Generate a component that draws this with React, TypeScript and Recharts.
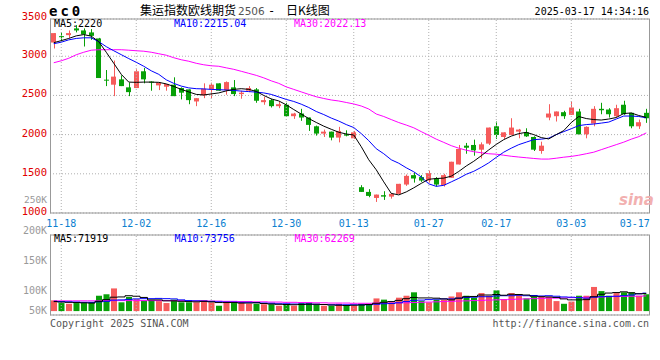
import React from "react";
import {
  Bar,
  CartesianGrid,
  Cell,
  ComposedChart,
  Line,
  ReferenceLine,
  XAxis,
  YAxis,
} from "recharts";

const dates = [
  "11-15", "11-18", "11-19", "11-20", "11-21", "11-22", "11-25", "11-26", "11-27", "11-28",
  "11-29", "12-02", "12-03", "12-04", "12-05", "12-06", "12-09", "12-10", "12-11", "12-12",
  "12-13", "12-16", "12-17", "12-18", "12-19", "12-20", "12-23", "12-24", "12-25", "12-26",
  "12-27", "12-30", "12-31", "01-02", "01-03", "01-06", "01-07", "01-08", "01-09", "01-10",
  "01-13", "01-14", "01-15", "01-16", "01-17", "01-20", "01-21", "01-22", "01-23", "01-24",
  "01-27", "02-05", "02-06", "02-07", "02-10", "02-11", "02-12", "02-13", "02-14", "02-17",
  "02-18", "02-19", "02-20", "02-21", "02-24", "02-25", "02-26", "02-27", "02-28", "03-03",
  "03-04", "03-05", "03-06", "03-07", "03-10", "03-11", "03-12", "03-13", "03-14", "03-17",
];

const opens = [
  3175, 3256, 3269, 3355, 3329, 3304, 3227, 2701, 2637, 2705,
  2603, 2594, 2808, 2676, 2628, 2611, 2637, 2594, 2577, 2423,
  2500, 2577, 2654, 2568, 2603, 2517, 2560, 2577, 2414, 2440,
  2363, 2381, 2235, 2269, 2218, 2106, 2013, 2038, 1962, 2004,
  1953, 1329, 1269, 1192, 1227, 1209, 1244, 1363, 1483, 1458,
  1414, 1440, 1355, 1449, 1619, 1859, 1868, 1808, 1885, 2106,
  1970, 1996, 2038, 2029, 1970, 1791, 2218, 2235, 2286, 2252,
  2295, 2004, 2141, 2329, 2320, 2235, 2381, 2278, 2106, 2278,
];
const highs = [
  3295, 3304, 3329, 3397, 3355, 3346, 3234, 2824, 2945, 2756,
  2663, 2833, 2850, 2679, 2663, 2645, 2731, 2603, 2577, 2465,
  2654, 2663, 2654, 2679, 2696, 2560, 2619, 2594, 2483, 2458,
  2423, 2406, 2278, 2329, 2218, 2115, 2064, 2038, 2099, 2055,
  2047, 1355, 1304, 1235, 1278, 1253, 1372, 1491, 1517, 1483,
  1542, 1458, 1500, 1654, 1868, 1894, 1936, 1901, 2090, 2167,
  2029, 2209, 2073, 2081, 1978, 1910, 2388, 2295, 2304, 2423,
  2329, 2106, 2363, 2406, 2337, 2381, 2432, 2278, 2192, 2329,
];
const lows = [
  3099, 3192, 3234, 3304, 3124, 3209, 2722, 2619, 2491, 2619,
  2491, 2594, 2654, 2560, 2568, 2560, 2491, 2449, 2388, 2363,
  2465, 2465, 2560, 2509, 2491, 2458, 2542, 2406, 2381, 2346,
  2337, 2227, 2201, 2176, 2047, 1987, 1970, 1927, 1901, 1978,
  1945, 1269, 1201, 1141, 1167, 1183, 1244, 1346, 1388, 1397,
  1388, 1337, 1337, 1449, 1619, 1756, 1731, 1696, 1868, 1945,
  1945, 1996, 1953, 1970, 1791, 1756, 2183, 2167, 2201, 2252,
  2004, 1953, 2106, 2260, 2218, 2218, 2252, 2081, 2073, 2150,
];
const closes = [
  3295, 3243, 3295, 3329, 3278, 3260, 2722, 2692, 2740, 2619,
  2542, 2808, 2705, 2667, 2663, 2645, 2491, 2535, 2440, 2465,
  2586, 2637, 2560, 2670, 2517, 2535, 2594, 2432, 2440, 2363,
  2388, 2235, 2269, 2218, 2124, 2013, 2038, 1962, 2047, 1987,
  2029, 1269, 1218, 1235, 1209, 1244, 1372, 1474, 1440, 1414,
  1509, 1363, 1483, 1654, 1817, 1833, 1799, 1876, 2090, 1996,
  2029, 2090, 2064, 1978, 1808, 1859, 2269, 2295, 2235, 2346,
  2004, 2099, 2329, 2311, 2260, 2337, 2260, 2106, 2158, 2209,
];

const ma5 = [
  3173, 3199, 3227, 3260, 3276, 3256, 3186, 3051, 2910, 2769,
  2670, 2667, 2670, 2670, 2667, 2647, 2615, 2577, 2545, 2513,
  2506, 2519, 2532, 2558, 2577, 2586, 2577, 2551, 2500, 2455,
  2430, 2380, 2320, 2262, 2205, 2155, 2108, 2068, 2030, 2008,
  1995, 1846, 1679, 1551, 1397, 1250, 1231, 1269, 1321, 1378,
  1430, 1440, 1445, 1470, 1530, 1600, 1660, 1730, 1805, 1875,
  1936, 1981, 2013, 2029, 2000, 1962, 1945, 2000, 2051, 2154,
  2231, 2205, 2192, 2186, 2199, 2218, 2269, 2276, 2244, 2220,
];
const ma10 = [
  3160, 3179, 3209, 3227, 3235, 3235, 3186, 3122, 3070, 3020,
  2970, 2923, 2872, 2814, 2769, 2699, 2654, 2619, 2596, 2586,
  2583, 2577, 2573, 2569, 2564, 2555, 2549, 2542, 2532, 2513,
  2481, 2449, 2423, 2388, 2346, 2295, 2256, 2211, 2173, 2128,
  2090, 2013, 1923, 1820, 1756, 1679, 1635, 1577, 1526, 1460,
  1372, 1340, 1353, 1397, 1442, 1494, 1532, 1583, 1640, 1710,
  1776, 1827, 1872, 1904, 1936, 1942, 1955, 2000, 2038, 2075,
  2115, 2128, 2135, 2147, 2160, 2199, 2237, 2237, 2231, 2215,
];
const ma30 = [
  2917, 2942, 2974, 3019, 3051, 3077, 3083, 3083, 3083, 3083,
  3077, 3070, 3064, 3051, 3032, 3013, 2981, 2955, 2936, 2910,
  2891, 2878, 2872, 2852, 2833, 2808, 2782, 2756, 2724, 2686,
  2654, 2609, 2577, 2545, 2513, 2483, 2461, 2442, 2429, 2410,
  2391, 2365, 2327, 2263, 2231, 2192, 2154, 2122, 2087, 2038,
  1991, 1942, 1901, 1859, 1827, 1801, 1782, 1769, 1756, 1750,
  1737, 1724, 1714, 1705, 1696, 1688, 1688, 1699, 1712, 1722,
  1737, 1756, 1776, 1808, 1840, 1872, 1904, 1942, 1974, 2022,
];

const volumes = [
  44000, 33000, 30000, 33000, 33000, 36000, 63000, 69000, 93000, 36000,
  58000, 49000, 44000, 44000, 41000, 33000, 47000, 36000, 36000, 36000,
  44000, 36000, 22000, 39000, 33000, 36000, 30000, 30000, 28000, 28000,
  22000, 28000, 22000, 33000, 33000, 25000, 22000, 22000, 30000, 22000,
  22000, 30000, 30000, 52000, 47000, 36000, 55000, 63000, 77000, 41000,
  36000, 47000, 47000, 60000, 77000, 63000, 55000, 74000, 63000, 85000,
  49000, 74000, 69000, 52000, 60000, 60000, 58000, 41000, 30000, 39000,
  63000, 63000, 99000, 82000, 63000, 74000, 77000, 77000, 63000, 69000,
];
const volMa5 = [
  39000, 37000, 36000, 35000, 34000, 33000, 40000, 47000, 57000, 58000,
  63000, 61000, 56000, 46000, 46000, 42000, 42000, 40000, 39000, 38000,
  40000, 38000, 35000, 35000, 35000, 33000, 33000, 34000, 31000, 29000,
  28000, 27000, 26000, 27000, 28000, 28000, 27000, 25000, 24000, 23000,
  24000, 25000, 27000, 32000, 36000, 39000, 44000, 51000, 56000, 54000,
  54000, 53000, 50000, 46000, 53000, 59000, 60000, 66000, 66000, 68000,
  65000, 69000, 68000, 66000, 61000, 59000, 58000, 56000, 50000, 46000,
  46000, 47000, 59000, 69000, 74000, 76000, 79000, 75000, 71000, 71919,
];
const volMa10 = [
  40000, 39000, 38000, 37000, 36000, 36000, 38000, 40000, 45000, 46000,
  48000, 50000, 51000, 51000, 52000, 51000, 50000, 46000, 43000, 42000,
  41000, 40000, 38000, 37000, 37000, 36000, 36000, 35000, 33000, 32000,
  30000, 30000, 29000, 29000, 29000, 28000, 27000, 26000, 26000, 26000,
  26000, 26000, 26000, 28000, 30000, 31000, 34000, 39000, 44000, 45000,
  47000, 49000, 50000, 50000, 53000, 56000, 57000, 59000, 59000, 62000,
  63000, 63000, 65000, 63000, 64000, 62000, 63000, 61000, 58000, 57000,
  55000, 53000, 57000, 59000, 60000, 61000, 63000, 66000, 71000, 73756,
];
const volMa30 = [
  42000, 42000, 42000, 42000, 42000, 42000, 42000, 43000, 43000, 43000,
  43000, 43000, 43000, 43000, 43000, 43000, 43000, 43000, 42000, 42000,
  42000, 41000, 41000, 40000, 40000, 39000, 39000, 38000, 38000, 37000,
  37000, 36000, 36000, 35000, 35000, 34000, 34000, 33000, 33000, 33000,
  32000, 32000, 32000, 33000, 33000, 33000, 34000, 34000, 35000, 36000,
  37000, 38000, 39000, 40000, 41000, 42000, 43000, 44000, 45000, 46000,
  47000, 48000, 49000, 50000, 51000, 52000, 53000, 53000, 54000, 55000,
  56000, 57000, 58000, 58000, 59000, 60000, 60000, 61000, 61000, 62269,
];

const tickDates = ["11-18", "12-02", "12-16", "12-30", "01-13", "01-27", "02-17", "03-03", "03-17"];
const gridDates = tickDates.slice(0, -1);
const priceTicks = [1000, 1500, 2000, 2500, 3000];
const PRICE_MIN = 1000;
const PRICE_MAX = 3475;

const UP = "#f65b5b";
const DOWN = "#07a007";
const MONO = "'DejaVu Sans Mono', 'Liberation Mono', monospace";
const CJK = "'Noto Sans CJK SC', sans-serif";
const GRID = "#b0b0b0";
const FRAME = "#999";

const rows = dates.map((date, i) => ({
  date,
  open: opens[i],
  high: highs[i],
  low: lows[i],
  close: closes[i],
  ma5: ma5[i],
  ma10: ma10[i],
  ma30: ma30[i],
  vol: volumes[i],
  vma5: volMa5[i],
  vma10: volMa10[i],
  vma30: volMa30[i],
}));

function Candle(props: any) {
  const { x, y, width, height, payload } = props;
  const { open, close, high, low } = payload;
  const color = close >= open ? UP : DOWN;
  const k = high > low ? height / (high - low) : 0;
  const top = y + (high - Math.max(open, close)) * k;
  const bottom = y + (high - Math.min(open, close)) * k;
  const cx = Math.round(x + width / 2) + 0.5;
  return (
    <g>
      <line x1={cx} x2={cx} y1={y} y2={y + height} stroke={color} strokeWidth={1} />
      <rect x={Math.round(x)} y={top} width={width} height={Math.max(1, bottom - top)} fill={color} />
    </g>
  );
}

function DateTick({ x, y, payload }: any) {
  const last = payload.value === dates[dates.length - 1];
  return (
    <text
      x={last ? x + 3.5 : x}
      y={y + 12}
      textAnchor={last ? "end" : "middle"}
      fill="#0a80d0"
      fontSize={10}
      fontFamily={MONO}
    >
      {payload.value}
    </text>
  );
}

function PriceTick({ x, y, payload }: any) {
  return (
    <text x={x} y={y + 2} textAnchor="end" fill="#e00000" fontSize={10.5} fontFamily={MONO}>
      {payload.value}
    </text>
  );
}

function PriceChart() {
  return (
    <ComposedChart
      width={660}
      height={232}
      data={rows}
      margin={{ top: 19, right: 0, bottom: 0, left: 0 }}
    >
      <CartesianGrid vertical={false} stroke={GRID} strokeDasharray="1 2" />
      {gridDates.map((d) => (
        <ReferenceLine key={d} x={d} stroke={GRID} strokeDasharray="1 2" />
      ))}
      <XAxis
        dataKey="date"
        ticks={tickDates}
        interval={0}
        height={19}
        tickLine={false}
        axisLine={false}
        tickSize={0}
        tick={<DateTick />}
      />
      <YAxis
        domain={[PRICE_MIN, PRICE_MAX]}
        ticks={priceTicks}
        width={50}
        tickLine={false}
        axisLine={false}
        tickSize={0}
        tickMargin={3}
        tick={<PriceTick />}
      />
      <YAxis yAxisId="right" orientation="right" width={10} tick={false} axisLine={false} domain={[PRICE_MIN, PRICE_MAX]} />
      <Bar dataKey={(d: any) => [d.low, d.high]} barSize={5} shape={<Candle />} isAnimationActive={false} />
      <Line dataKey="ma30" stroke="#ff00ff" dot={false} strokeWidth={1} isAnimationActive={false} />
      <Line dataKey="ma10" stroke="#0000ff" dot={false} strokeWidth={1} isAnimationActive={false} />
      <Line dataKey="ma5" stroke="#000000" dot={false} strokeWidth={1} isAnimationActive={false} />
    </ComposedChart>
  );
}

function VolumeChart() {
  return (
    <ComposedChart
      width={660}
      height={90}
      data={rows}
      margin={{ top: 9, right: 10, bottom: 1, left: 50 }}
    >
      <YAxis yAxisId="grid" hide domain={[0, 4]} ticks={[1, 2, 3]} />
      <CartesianGrid yAxisId="grid" vertical={false} stroke={GRID} strokeDasharray="1 2" />
      {gridDates.map((d) => (
        <ReferenceLine key={d} x={d} stroke={GRID} strokeDasharray="1 2" />
      ))}
      <XAxis dataKey="date" hide />
      <YAxis hide domain={[-16000, 312000]} />
      <Bar dataKey="vol" barSize={6} isAnimationActive={false}>
        {rows.map((r) => (
          <Cell key={r.date} fill={r.close >= r.open ? UP : DOWN} />
        ))}
      </Bar>
      <Line type="step" dataKey="vma30" stroke="#ff00ff" dot={false} strokeWidth={1} isAnimationActive={false} />
      <Line type="step" dataKey="vma10" stroke="#0000ff" dot={false} strokeWidth={1} isAnimationActive={false} />
      <Line type="step" dataKey="vma5" stroke="#000000" dot={false} strokeWidth={1} isAnimationActive={false} />
    </ComposedChart>
  );
}

function Overlay() {
  const label = { fontFamily: MONO, fontSize: 10 };
  return (
    <svg width={660} height={360} style={{ position: "absolute", left: 0, top: 0, pointerEvents: "none" }}>
      <rect x={50.5} y={19} width={599} height={194} fill="none" stroke={FRAME} />
      <rect x={50.5} y={235} width={599} height={80} fill="none" stroke={FRAME} />
      <text x={49} y={16} fontFamily={MONO} fontSize={14} fontWeight="bold" letterSpacing={3}>ec0</text>
      <text x={140} y={15} fontFamily={CJK} fontSize={12}>集运指数欧线期货</text>
      <text x={238} y={15} fontFamily="'DejaVu Sans', sans-serif" fontSize={10.5} fill="#555">2506</text>
      <text x={268} y={15} fontFamily={MONO} fontSize={12}>-</text>
      <text x={286} y={15} fontFamily={CJK} fontSize={12}>日K线图</text>
      <text x={649} y={15} textAnchor="end" {...label}>2025-03-17 14:34:16</text>
      <text x={47} y={20} textAnchor="end" fill="#e00000" fontFamily={MONO} fontSize={10.5}>3500</text>
      <text x={54} y={27} {...label}>MA5:2220</text>
      <text x={174} y={27} fill="#0000ff" {...label}>MA10:2215.04</text>
      <text x={294} y={27} fill="#ff00ff" {...label}>MA30:2022.13</text>
      <text x={47} y={203} textAnchor="end" fill="#999" fontFamily={MONO} fontSize={9.5}>250K</text>
      <text x={47} y={234} textAnchor="end" fill="#999" {...label}>200K</text>
      <text x={47} y={264} textAnchor="end" fill="#999" {...label}>150K</text>
      <text x={47} y={294} textAnchor="end" fill="#999" {...label}>100K</text>
      <text x={47} y={314} textAnchor="end" fill="#999" {...label}>50K</text>
      <text x={54} y={242} {...label}>MA5:71919</text>
      <text x={174.5} y={242} fill="#0000ff" {...label}>MA10:73756</text>
      <text x={294.5} y={242} fill="#ff00ff" {...label}>MA30:62269</text>
      <text x={50} y={327} fill="#555" {...label}>Copyright 2025 SINA.COM</text>
      <text x={649} y={327} textAnchor="end" fill="#555" {...label}>http://finance.sina.com.cn</text>
      <text x={619} y={205} fill="#f2b0b0" fontSize={15} fontWeight="bold" fontStyle="italic" fontFamily="'DejaVu Sans', sans-serif">sina</text>
    </svg>
  );
}

export default function App() {
  return (
    <div style={{ position: "fixed", left: 0, top: 0, width: 660, height: 360, background: "#fff" }}>
      <div style={{ position: "absolute", left: 0, top: 0 }}>
        <PriceChart />
      </div>
      <div style={{ position: "absolute", left: 0, top: 226 }}>
        <VolumeChart />
      </div>
      <Overlay />
    </div>
  );
}
